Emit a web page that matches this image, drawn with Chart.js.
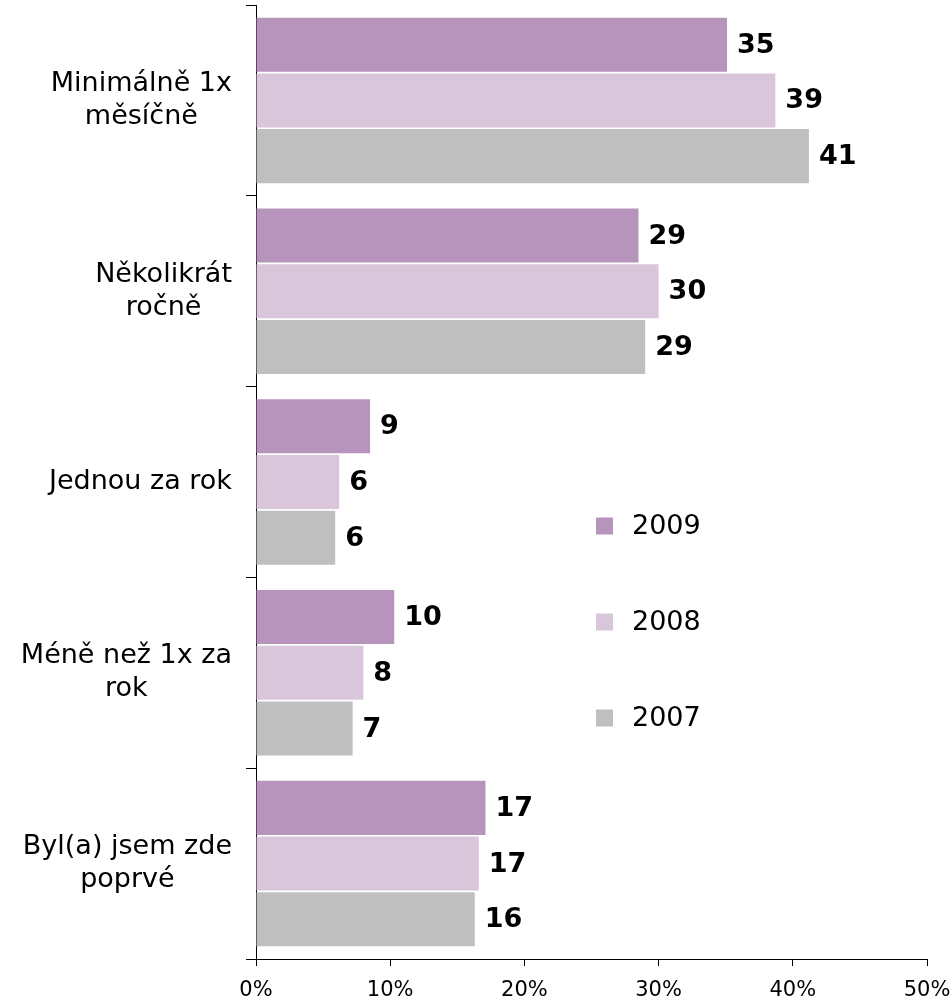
<!DOCTYPE html>
<html>
<head>
<meta charset="utf-8">
<script src="https://cdn.jsdelivr.net/npm/chart.js@4.4.1/dist/chart.umd.min.js"></script>
<style>
html,body{margin:0;padding:0;background:#fff;}
#wrap{width:952px;height:1000px;position:relative;}
</style>
</head>
<body>
<div id="wrap"><canvas id="c" width="952" height="1000"></canvas></div>
<script>
const categories = [
  ["Minimálně 1x", "měsíčně"],
  ["Několikrát", "ročně"],
  ["Jednou za rok"],
  ["Méně než 1x za", "rok"],
  ["Byl(a) jsem zde", "poprvé"]
];
const seriesNames = ["2009", "2008", "2007"];
const values2009 = [35.1, 28.5, 8.5, 10.3, 17.1];
const values2008 = [38.7, 30.0, 6.2, 8.0, 16.6];
const values2007 = [41.2, 29.0, 5.9, 7.2, 16.3];
const labels2009 = ["35", "29", "9", "10", "17"];
const labels2008 = ["39", "30", "6", "8", "17"];
const labels2007 = ["41", "29", "6", "7", "16"];
const xTicks = [0, 10, 20, 30, 40, 50];
const colors = ["#B794BC", "#D9C6DB", "#BFBFBF"];

const FONT = "'DejaVu Sans', Verdana, sans-serif";
const seriesLabels = [labels2009, labels2008, labels2007];

const dataLabelPlugin = {
  id: 'dataLabels',
  afterDatasetsDraw(chart) {
    const ctx = chart.ctx;
    ctx.save();
    ctx.font = "bold 27px " + FONT;
    ctx.fillStyle = "#000";
    ctx.textAlign = "left";
    ctx.textBaseline = "middle";
    chart.data.datasets.forEach((ds, di) => {
      const meta = chart.getDatasetMeta(di);
      meta.data.forEach((bar, i) => {
        ctx.fillText(seriesLabels[di][i], bar.x + 10, bar.y + 1);
      });
    });
    ctx.restore();
  }
};

const yLabelPlugin = {
  id: 'yLabels',
  afterDraw(chart) {
    const ctx = chart.ctx;
    const y = chart.scales.y;
    ctx.save();
    ctx.font = "27px " + FONT;
    ctx.fillStyle = "#000";
    ctx.textAlign = "center";
    ctx.textBaseline = "middle";
    const lh = 33;
    const right = chart.chartArea.left - 24;
    categories.forEach((lines, i) => {
      const cy = y.getPixelForValue(i);
      let maxW = 0;
      lines.forEach(l => { maxW = Math.max(maxW, ctx.measureText(l).width); });
      const cx = right - maxW / 2;
      const start = cy - (lines.length - 1) * lh / 2;
      lines.forEach((l, k) => ctx.fillText(l, cx, start + k * lh));
    });
    ctx.restore();
  }
};

const legendPlugin = {
  id: 'customLegend',
  afterDraw(chart) {
    const ctx = chart.ctx;
    ctx.save();
    ctx.font = "27px " + FONT;
    ctx.textAlign = "left";
    ctx.textBaseline = "middle";
    const x0 = 596, y0 = 526, gap = 96, sz = 17;
    chart.data.datasets.forEach((ds, di) => {
      const yy = y0 + di * gap;
      ctx.fillStyle = ds.backgroundColor;
      ctx.fillRect(x0, yy - sz / 2, sz, sz);
      ctx.fillStyle = "#000";
      ctx.fillText(ds.label, 632, yy + 1);
    });
    ctx.restore();
  }
};

new Chart(document.getElementById('c'), {
  type: 'bar',
  data: {
    labels: categories.map(c => c.join(' ')),
    datasets: [
      { label: seriesNames[0], data: values2009, backgroundColor: colors[0] },
      { label: seriesNames[1], data: values2008, backgroundColor: colors[1] },
      { label: seriesNames[2], data: values2007, backgroundColor: colors[2] }
    ]
  },
  options: {
    indexAxis: 'y',
    responsive: false,
    animation: false,
    devicePixelRatio: 1,
    datasets: { bar: { categoryPercentage: 0.876, barPercentage: 0.97 } },
    layout: { padding: { top: 5, right: 25, left: 0, bottom: 0 } },
    plugins: { legend: { display: false }, tooltip: { enabled: false } },
    scales: {
      x: {
        min: 0, max: 50,
        afterBuildTicks(s) { s.ticks = xTicks.map(v => ({ value: v })); },
        ticks: {
          callback: v => v + '%',
          font: { family: FONT, size: 21 },
          color: '#000',
          padding: 12,
          maxRotation: 0
        },
        grid: { drawOnChartArea: false, drawTicks: true, tickLength: 7, color: '#000', lineWidth: 1 },
        border: { display: true, color: '#000', width: 1 },
        afterFit(s) { s.height = 41; s.paddingLeft = 0; s.paddingRight = 0; }
      },
      y: {
        ticks: { display: false },
        grid: { drawOnChartArea: false, drawTicks: true, tickLength: 10, color: '#000', lineWidth: 1, offset: true },
        border: { display: true, color: '#000', width: 1 },
        afterFit(s) { s.width = 256; s.paddingTop = 0; s.paddingBottom = 0; }
      }
    }
  },
  plugins: [dataLabelPlugin, yLabelPlugin, legendPlugin]
});
</script>
</body>
</html>
